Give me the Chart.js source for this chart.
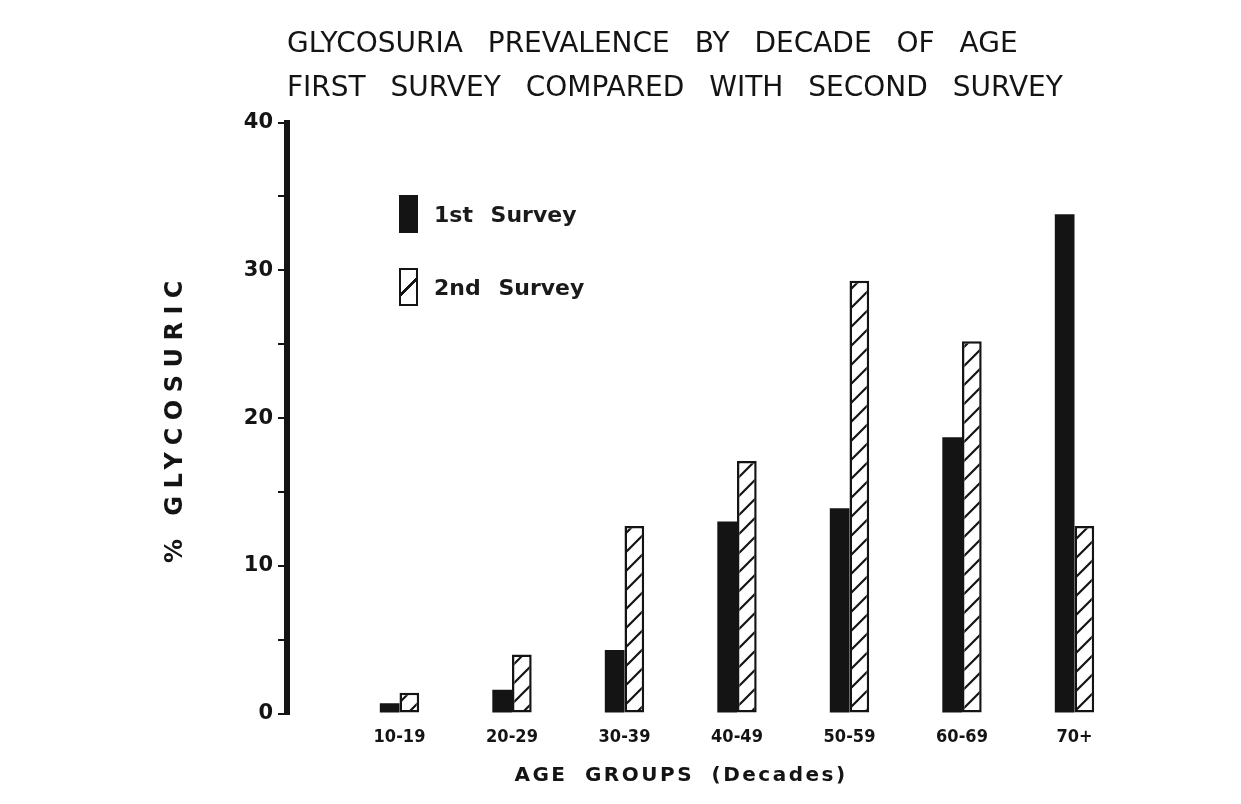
<!DOCTYPE html>
<html>
<head>
<meta charset="utf-8">
<title>Glycosuria prevalence by decade of age</title>
<script src="https://cdn.jsdelivr.net/npm/chart.js@4.4.1/dist/chart.umd.min.js"></script>
<style>
  body { margin: 0; background: #fff; }
  #wrap { position: relative; width: 1241px; height: 804px; }
  .key {
    position: absolute; left: 399px; display: flex; align-items: center;
    font: bold 22px 'DejaVu Sans', sans-serif; color: #1a1a1a; word-spacing: 10px;
  }
  .key:nth-child(1) { top: 195px; }
  .key:nth-child(2) { top: 268px; }
  .key i { display: inline-block; width: 19px; height: 38px; box-sizing: border-box; margin-right: 16px; }
  .key i.solid { background: #141414; }
  .key i.hatched {
    border: 2.5px solid #141414;
    background: linear-gradient(135deg, #fff 0 46%, #141414 46% 54%, #fff 54%);
  }
</style>
</head>
<body>
<div id="wrap">
  <canvas id="glycoChart"></canvas>
  <div id="legend"></div>
</div>
<script>
// values
const ageGroups = ['10-19', '20-29', '30-39', '40-49', '50-59', '60-69', '70+'];
const firstSurvey = [0.7, 1.6, 4.3, 13.0, 13.9, 18.7, 33.8];
const secondSurvey = [1.4, 4.0, 12.7, 17.1, 29.3, 25.2, 12.7];
const yLabels = [0, 10, 20, 30, 40];

const ink = '#141414';

// diagonal "/" hatching for the second survey bars
function hatchPattern() {
    const c = document.createElement('canvas');
    c.width = c.height = 19;
    const g = c.getContext('2d');
    g.fillStyle = '#fff';
    g.fillRect(0, 0, 19, 19);
    g.strokeStyle = ink;
    g.lineWidth = 2.2;
    g.beginPath();
    g.moveTo(-2, 21); g.lineTo(21, -2);
    g.moveTo(-2, 2); g.lineTo(2, -2);
    g.moveTo(17, 21); g.lineTo(21, 17);
    g.stroke();
    return g.createPattern(c, 'repeat');
}

// the old lettering is widely spaced, canvas can do that per draw call
const spacedText = {
    id: 'spacedText',
    beforeDraw(chart) {
        const ctx = chart.ctx;
        const wrap = (obj, name, props, dx) => {
            if (!obj || obj['_sp_' + name]) return;
            const orig = obj[name];
            obj[name] = function(...args) {
                ctx.save();
                Object.assign(ctx, props);
                if (dx) ctx.translate(dx, 0);
                orig.apply(this, args);
                ctx.restore();
            };
            obj['_sp_' + name] = true;
        };
        wrap(chart.titleBlock, 'draw', { wordSpacing: '16px' });
        // x title sits a bit left of the plot centre in the original
        wrap(chart.scales.x, 'drawTitle', { letterSpacing: '2.5px', wordSpacing: '8px' }, -56);
        wrap(chart.scales.y, 'drawTitle', { letterSpacing: '7.5px' });
    }
};

const chart = new Chart(document.getElementById('glycoChart'), {
    type: 'bar',
    data: {
        datasets: [{
                label: '1st Survey',
                data: firstSurvey.map((v, i) => ({ x: i + 1, y: v })),
                backgroundColor: ink,
                borderWidth: 0
            },
            {
                label: '2nd Survey',
                data: secondSurvey.map((v, i) => ({ x: i + 1, y: v })),
                backgroundColor: hatchPattern(),
                borderColor: ink,
                borderWidth: 2.5,
                borderSkipped: false
            }
        ]
    },
    options: {
        responsive: true,
        maintainAspectRatio: false,
        animation: false,
        categoryPercentage: 0.35,
        barPercentage: 1,
        layout: {
            padding: { left: 0, right: 54, top: 0, bottom: 0 }
        },
        plugins: {
            legend: { display: false },
            tooltip: { enabled: false },
            title: {
                display: true,
                text: ['GLYCOSURIA PREVALENCE BY DECADE OF AGE', 'FIRST SURVEY COMPARED WITH SECOND SURVEY'],
                align: 'start',
                fullSize: false,
                color: ink,
                font: { family: 'DejaVu Sans', size: 28, weight: 'normal', lineHeight: 1.6 },
                padding: { top: 22, bottom: 11 }
            }
        },
        scales: {
            x: {
                type: 'linear',
                min: 0,
                max: 8,
                offset: false,
                grid: { display: false, drawTicks: false },
                border: { display: false },
                afterBuildTicks: (scale) => {
                    scale.ticks = ageGroups.map((_, i) => ({ value: i + 1 }));
                },
                afterFit: (scale) => { scale.height = 90.5; },
                ticks: {
                    autoSkip: false,
                    maxRotation: 0,
                    padding: 13,
                    color: ink,
                    font: { family: 'DejaVu Sans Condensed', size: 18, weight: 'bold' },
                    callback: (v) => ageGroups[v - 1] || ''
                },
                title: {
                    display: true,
                    text: 'AGE GROUPS (Decades)',
                    color: ink,
                    font: { family: 'DejaVu Sans', size: 20, weight: 'bold' },
                    padding: { top: 0, bottom: 16 }
                }
            },
            y: {
                min: 0,
                max: 40,
                afterFit: (scale) => { scale.width = 287; },
                grid: {
                    drawOnChartArea: false,
                    drawTicks: true,
                    tickLength: 9,
                    color: ink,
                    lineWidth: 2
                },
                border: { color: ink, width: 6 },
                ticks: {
                    stepSize: 5,
                    padding: 5,
                    color: ink,
                    font: { family: 'DejaVu Sans', size: 21, weight: 'bold' },
                    callback: (v) => yLabels.includes(v) ? v : ''
                },
                title: {
                    display: true,
                    text: '% GLYCOSURIC',
                    color: ink,
                    font: { family: 'DejaVu Sans', size: 24, weight: 'bold' },
                    padding: { top: 161, bottom: 0 }
                }
            }
        }
    },
    plugins: [spacedText]
});

// legend drawn as html, placed inside the plot like the original
const legendEl = document.getElementById('legend');
chart.data.datasets.forEach((ds, i) => {
    const row = document.createElement('div');
    row.className = 'key';
    const swatch = document.createElement('i');
    swatch.className = i === 0 ? 'solid' : 'hatched';
    row.append(swatch, ds.label);
    legendEl.append(row);
});
</script>
</body>
</html>
